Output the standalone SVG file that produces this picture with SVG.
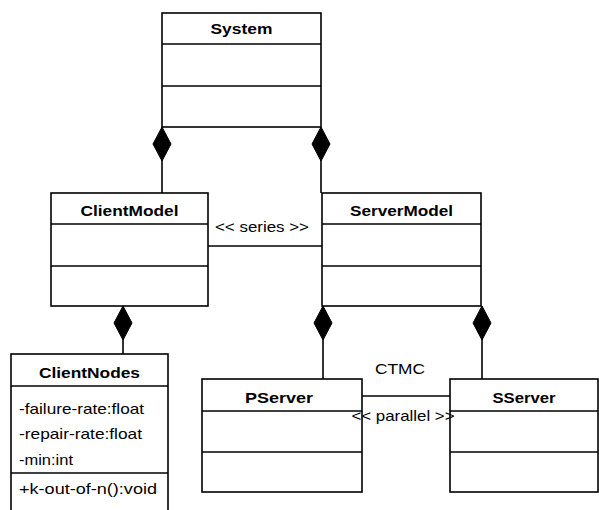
<svg xmlns="http://www.w3.org/2000/svg" width="599" height="510" viewBox="0 0 599 510">
<style>
.box{fill:#fff;stroke:#000;stroke-width:1.6}
.sep{stroke:#000;stroke-width:1.4}
.t{font-family:"Liberation Sans",Arial,sans-serif;font-size:15px;fill:#000}
.b{font-weight:bold;text-anchor:middle}
.c{stroke:#000;stroke-width:1.6;fill:none}
.d{fill:#000;stroke:#000;stroke-width:1}
</style>
<rect width="599" height="510" fill="#fff"/>
<g id="connectors">
<line class="c" x1="162" y1="127" x2="162" y2="193"/>
<polygon class="d" points="162,127 171,144 162,161 153,144"/>
<line class="c" x1="321" y1="127" x2="321" y2="193"/>
<polygon class="d" points="321,127 330,144 321,161 312,144"/>
<line class="c" x1="208" y1="246" x2="322" y2="246"/>
<text class="t" x="262" y="232" text-anchor="middle" textLength="94" lengthAdjust="spacingAndGlyphs">&lt;&lt; series &gt;&gt;</text>
<line class="c" x1="123" y1="306" x2="123" y2="354"/>
<polygon class="d" points="123,306 132,323 123,340 114,323"/>
<line class="c" x1="323" y1="306" x2="323" y2="379"/>
<polygon class="d" points="323,306 332,323 323,340 314,323"/>
<line class="c" x1="482" y1="306" x2="482" y2="379"/>
<polygon class="d" points="482,306 491,323 482,340 473,323"/>
<line class="c" x1="362" y1="396" x2="450" y2="396"/>
<text class="t" x="400" y="374" text-anchor="middle" textLength="50" lengthAdjust="spacingAndGlyphs">CTMC</text>
</g>
<g id="System">
<rect class="box" x="162" y="13" width="159" height="114"/>
<line class="sep" x1="162" y1="44" x2="321" y2="44"/>
<line class="sep" x1="162" y1="86" x2="321" y2="86"/>
<text class="t b" x="241.5" y="34" textLength="62" lengthAdjust="spacingAndGlyphs">System</text>
</g>
<g id="ClientModel">
<rect class="box" x="51" y="193" width="157" height="113"/>
<line class="sep" x1="51" y1="224" x2="208" y2="224"/>
<line class="sep" x1="51" y1="266" x2="208" y2="266"/>
<text class="t b" x="129.5" y="216" textLength="98" lengthAdjust="spacingAndGlyphs">ClientModel</text>
</g>
<g id="ServerModel">
<rect class="box" x="322" y="193" width="159" height="113"/>
<line class="sep" x1="322" y1="224" x2="481" y2="224"/>
<line class="sep" x1="322" y1="266" x2="481" y2="266"/>
<text class="t b" x="401.5" y="216" textLength="103" lengthAdjust="spacingAndGlyphs">ServerModel</text>
</g>
<g id="ClientNodes">
<rect class="box" x="11" y="354" width="157" height="160"/>
<line class="sep" x1="11" y1="386" x2="168" y2="386"/>
<line class="sep" x1="11" y1="473" x2="168" y2="473"/>
<text class="t b" x="89.5" y="378" textLength="101" lengthAdjust="spacingAndGlyphs">ClientNodes</text>
<text class="t" x="19" y="414" textLength="125" lengthAdjust="spacingAndGlyphs">-failure-rate:float</text>
<text class="t" x="19" y="439" textLength="123" lengthAdjust="spacingAndGlyphs">-repair-rate:float</text>
<text class="t" x="19" y="465" textLength="54" lengthAdjust="spacingAndGlyphs">-min:int</text>
<text class="t" x="19" y="494" textLength="138" lengthAdjust="spacingAndGlyphs">+k-out-of-n():void</text>
</g>
<g id="PServer">
<rect class="box" x="202" y="379" width="160" height="113"/>
<line class="sep" x1="202" y1="411" x2="362" y2="411"/>
<line class="sep" x1="202" y1="452" x2="362" y2="452"/>
<text class="t b" x="279" y="403" textLength="68" lengthAdjust="spacingAndGlyphs">PServer</text>
</g>
<g id="SServer">
<rect class="box" x="450" y="379" width="148" height="113"/>
<line class="sep" x1="450" y1="411" x2="598" y2="411"/>
<line class="sep" x1="450" y1="452" x2="598" y2="452"/>
<text class="t b" x="524" y="403" textLength="63" lengthAdjust="spacingAndGlyphs">SServer</text>
</g>
<text class="t" x="403" y="421" text-anchor="middle" textLength="103" lengthAdjust="spacingAndGlyphs">&lt;&lt; parallel &gt;&gt;</text>
</svg>
